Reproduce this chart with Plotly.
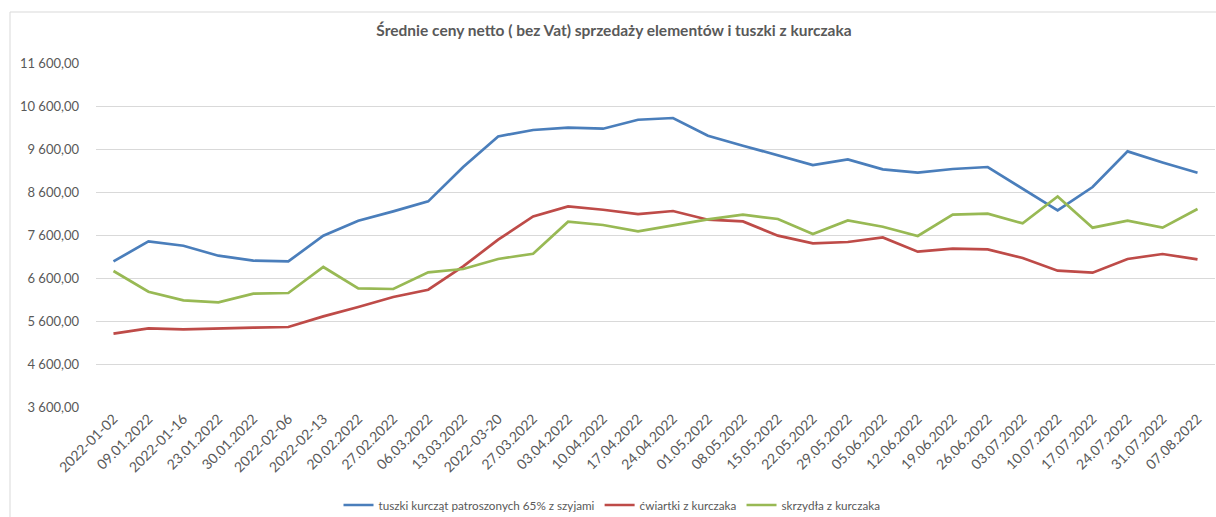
import plotly.graph_objects as go

categories = ["2022-01-02", "09.01.2022", "2022-01-16", "23.01.2022", "30.01.2022", "2022-02-06",
              "2022-02-13", "20.02.2022", "27.02.2022", "06.03.2022", "13.03.2022", "2022-03-20",
              "27.03.2022", "03.04.2022", "10.04.2022", "17.04.2022", "24.04.2022", "01.05.2022",
              "08.05.2022", "15.05.2022", "22.05.2022", "29.05.2022", "05.06.2022", "12.06.2022",
              "19.06.2022", "26.06.2022", "03.07.2022", "10.07.2022", "17.07.2022", "24.07.2022",
              "31.07.2022", "07.08.2022"]

tuszki = [6986, 7451, 7351, 7119, 7002, 6986, 7584, 7933, 8149, 8381, 9181, 9893,
          10042, 10095, 10072, 10281, 10321, 9909, 9677, 9460, 9228, 9358, 9126, 9049,
          9135, 9181, 8684, 8172, 8716, 9544, 9288, 9049]

cwiartki = [5305, 5428, 5405, 5430, 5444, 5460, 5707, 5926, 6158, 6328, 6870, 7491,
            8033, 8265, 8188, 8088, 8158, 7956, 7916, 7584, 7405, 7437, 7544, 7212,
            7281, 7265, 7065, 6770, 6723, 7042, 7158, 7033]

skrzydla = [6763, 6281, 6079, 6033, 6235, 6251, 6856, 6358, 6344, 6731, 6809, 7042,
            7165, 7909, 7833, 7684, 7823, 7963, 8072, 7972, 7623, 7940, 7793, 7577,
            8072, 8095, 7870, 8498, 7770, 7933, 7770, 8205]

series_names = ["tuszki kurcząt patroszonych 65% z szyjami", "ćwiartki z kurczaka", "skrzydła z kurczaka"]
series_colors = ["#4A7EBB", "#BE4B48", "#98B954"]

y_tickvals = [3600, 4600, 5600, 6600, 7600, 8600, 9600, 10600, 11600]
y_ticktext = ["3 600,00", "4 600,00", "5 600,00", "6 600,00", "7 600,00", "8 600,00",
              "9 600,00", "10 600,00", "11 600,00"]

title_text = "Średnie ceny netto ( bez Vat) sprzedaży elementów i tuszki z kurczaka"

FONT = "Lato"

fig = go.Figure()
for name, vals, col in zip(series_names, [tuszki, cwiartki, skrzydla], series_colors):
    fig.add_trace(go.Scatter(x=categories, y=vals, name=name, mode="lines",
                             line=dict(color=col, width=2.7)))

fig.update_layout(
    width=1216, height=517,
    paper_bgcolor="white", plot_bgcolor="white",
    margin=dict(l=96, r=1, t=63, b=110, autoexpand=False),
    font=dict(family=FONT, color="#595959"),
    title=dict(text="<b>" + title_text + "</b>", x=614 / 1216, xanchor="center",
               xref="container", yref="container",
               y=1 - 31 / 517, yanchor="middle", font=dict(size=15.5, color="#595959", family=FONT)),
    showlegend=True,
    legend=dict(orientation="h", xref="container", yref="container",
                x=612 / 1216, xanchor="center", y=12 / 517, yanchor="middle",
                font=dict(size=11.7, color="#595959", family=FONT), itemwidth=30,
                bgcolor="rgba(0,0,0,0)"),
    xaxis=dict(type="category", range=[-0.5, len(categories) - 0.5], showgrid=False,
               showline=False, zeroline=False, tickangle=-45, ticks="", automargin=False,
               tickfont=dict(size=14, color="#595959", family=FONT)),
    yaxis=dict(range=[3600, 11600], tickvals=y_tickvals, ticktext=y_ticktext,
               showgrid=True, gridcolor="#D9D9D9", gridwidth=1, zeroline=False,
               showline=False, ticks="", ticklabelstandoff=16, automargin=False,
               tickfont=dict(size=13, color="#595959", family=FONT)),
)

# chart-area frame (top and left edges visible)
fig.add_shape(type="rect", xref="paper", yref="paper",
              x0=-86 / 1119, x1=1.1, y0=-0.5, y1=1 + 51 / 344,
              line=dict(color="#D9D9D9", width=1), layer="below")

fig.write_html("out.html", config={"displayModeBar": False},
               post_script="document.body.style.margin='0px';document.body.style.overflow='hidden';")
